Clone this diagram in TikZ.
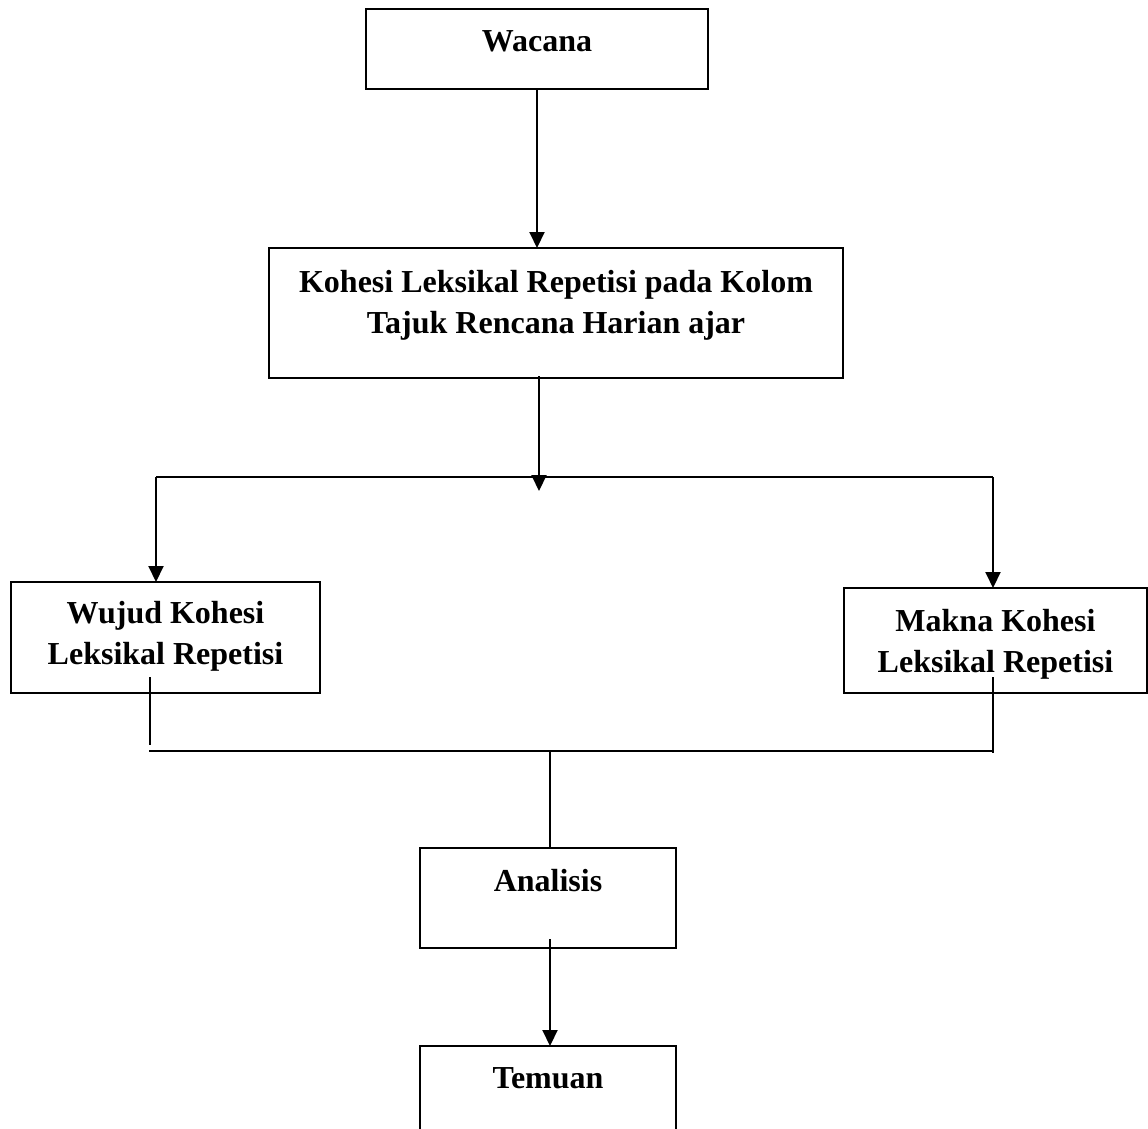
\documentclass[tikz,border=0pt]{standalone}
\usepackage{fontspec}
\setmainfont{Liberation Serif}
\usetikzlibrary{arrows.meta}
\begin{document}
\begin{tikzpicture}[x=1pt,y=-1pt,
  box/.style={draw, line width=1.8pt, inner sep=0pt, outer sep=0pt},
  lbl/.style={font=\fontsize{32}{41}\selectfont\bfseries, align=center, anchor=base, inner sep=0pt},
  conn/.style={line width=2pt},
  arr/.style={conn, -{Triangle[width=15pt,length=16pt]}},
  stub/.style={line width=1.2pt}]
\useasboundingbox (0,0) rectangle (1148,1128);
% boxes
\node[box, minimum width=342pt, minimum height=80pt] (wac) at (537,49) {};
\node[box, minimum width=574pt, minimum height=130pt] (koh) at (556,313) {};
\node[box, minimum width=309pt, minimum height=111pt] (wuj) at (165.5,637.5) {};
\node[box, minimum width=303pt, minimum height=105pt] (mak) at (995.5,640.5) {};
\node[box, minimum width=256pt, minimum height=100pt] (ana) at (548,898) {};
\node[box, minimum width=256pt, minimum height=104pt] (tem) at (548,1098) {};
% labels (anchor base = baseline of last line)
\node[lbl] (wact) at (537,51) {Wacana};
\node[lbl] (koht) at (556,333) {Kohesi Leksikal Repetisi pada Kolom\\Tajuk Rencana Harian ajar};
\node[lbl] (wujt) at (165.5,664) {Wujud Kohesi\\Leksikal Repetisi};
\node[lbl] (makt) at (995.5,672) {Makna Kohesi\\Leksikal Repetisi};
\node[lbl] (anat) at (548,891) {Analisis};
\node[lbl] (temt) at (548,1088) {Temuan};
% junction coordinates
\coordinate (jl) at (156,477);
\coordinate (jr) at (993,477);
\coordinate (k1) at (539,376);
\coordinate (k2) at (539,491);
\coordinate (sl1) at (150,677);
\coordinate (sl2) at (150,745);
\coordinate (sr1) at (993,677);
\coordinate (sr2) at (993,753);
\coordinate (bl) at (149,751);
\coordinate (br) at (993,751);
\coordinate (bm) at (550,751);
\coordinate (a1) at (550,939);
% connectors
\draw[arr] (wac.south) -- (wac.south |- koh.north);
\draw[arr] (k1) -- (k2);
\draw[conn] (jl) -- (jr);
\draw[arr] (jl) -- (jl |- wuj.north);
\draw[arr] (jr) -- (jr |- mak.north);
\draw[stub] (sl1) -- (sl2);
\draw[stub] (sr1) -- (sr2);
\draw[stub] (bl) -- (br);
\draw[conn] (bm) -- (bm |- ana.north);
\draw[arr] (a1) -- (a1 |- tem.north);
\end{tikzpicture}
\end{document}
